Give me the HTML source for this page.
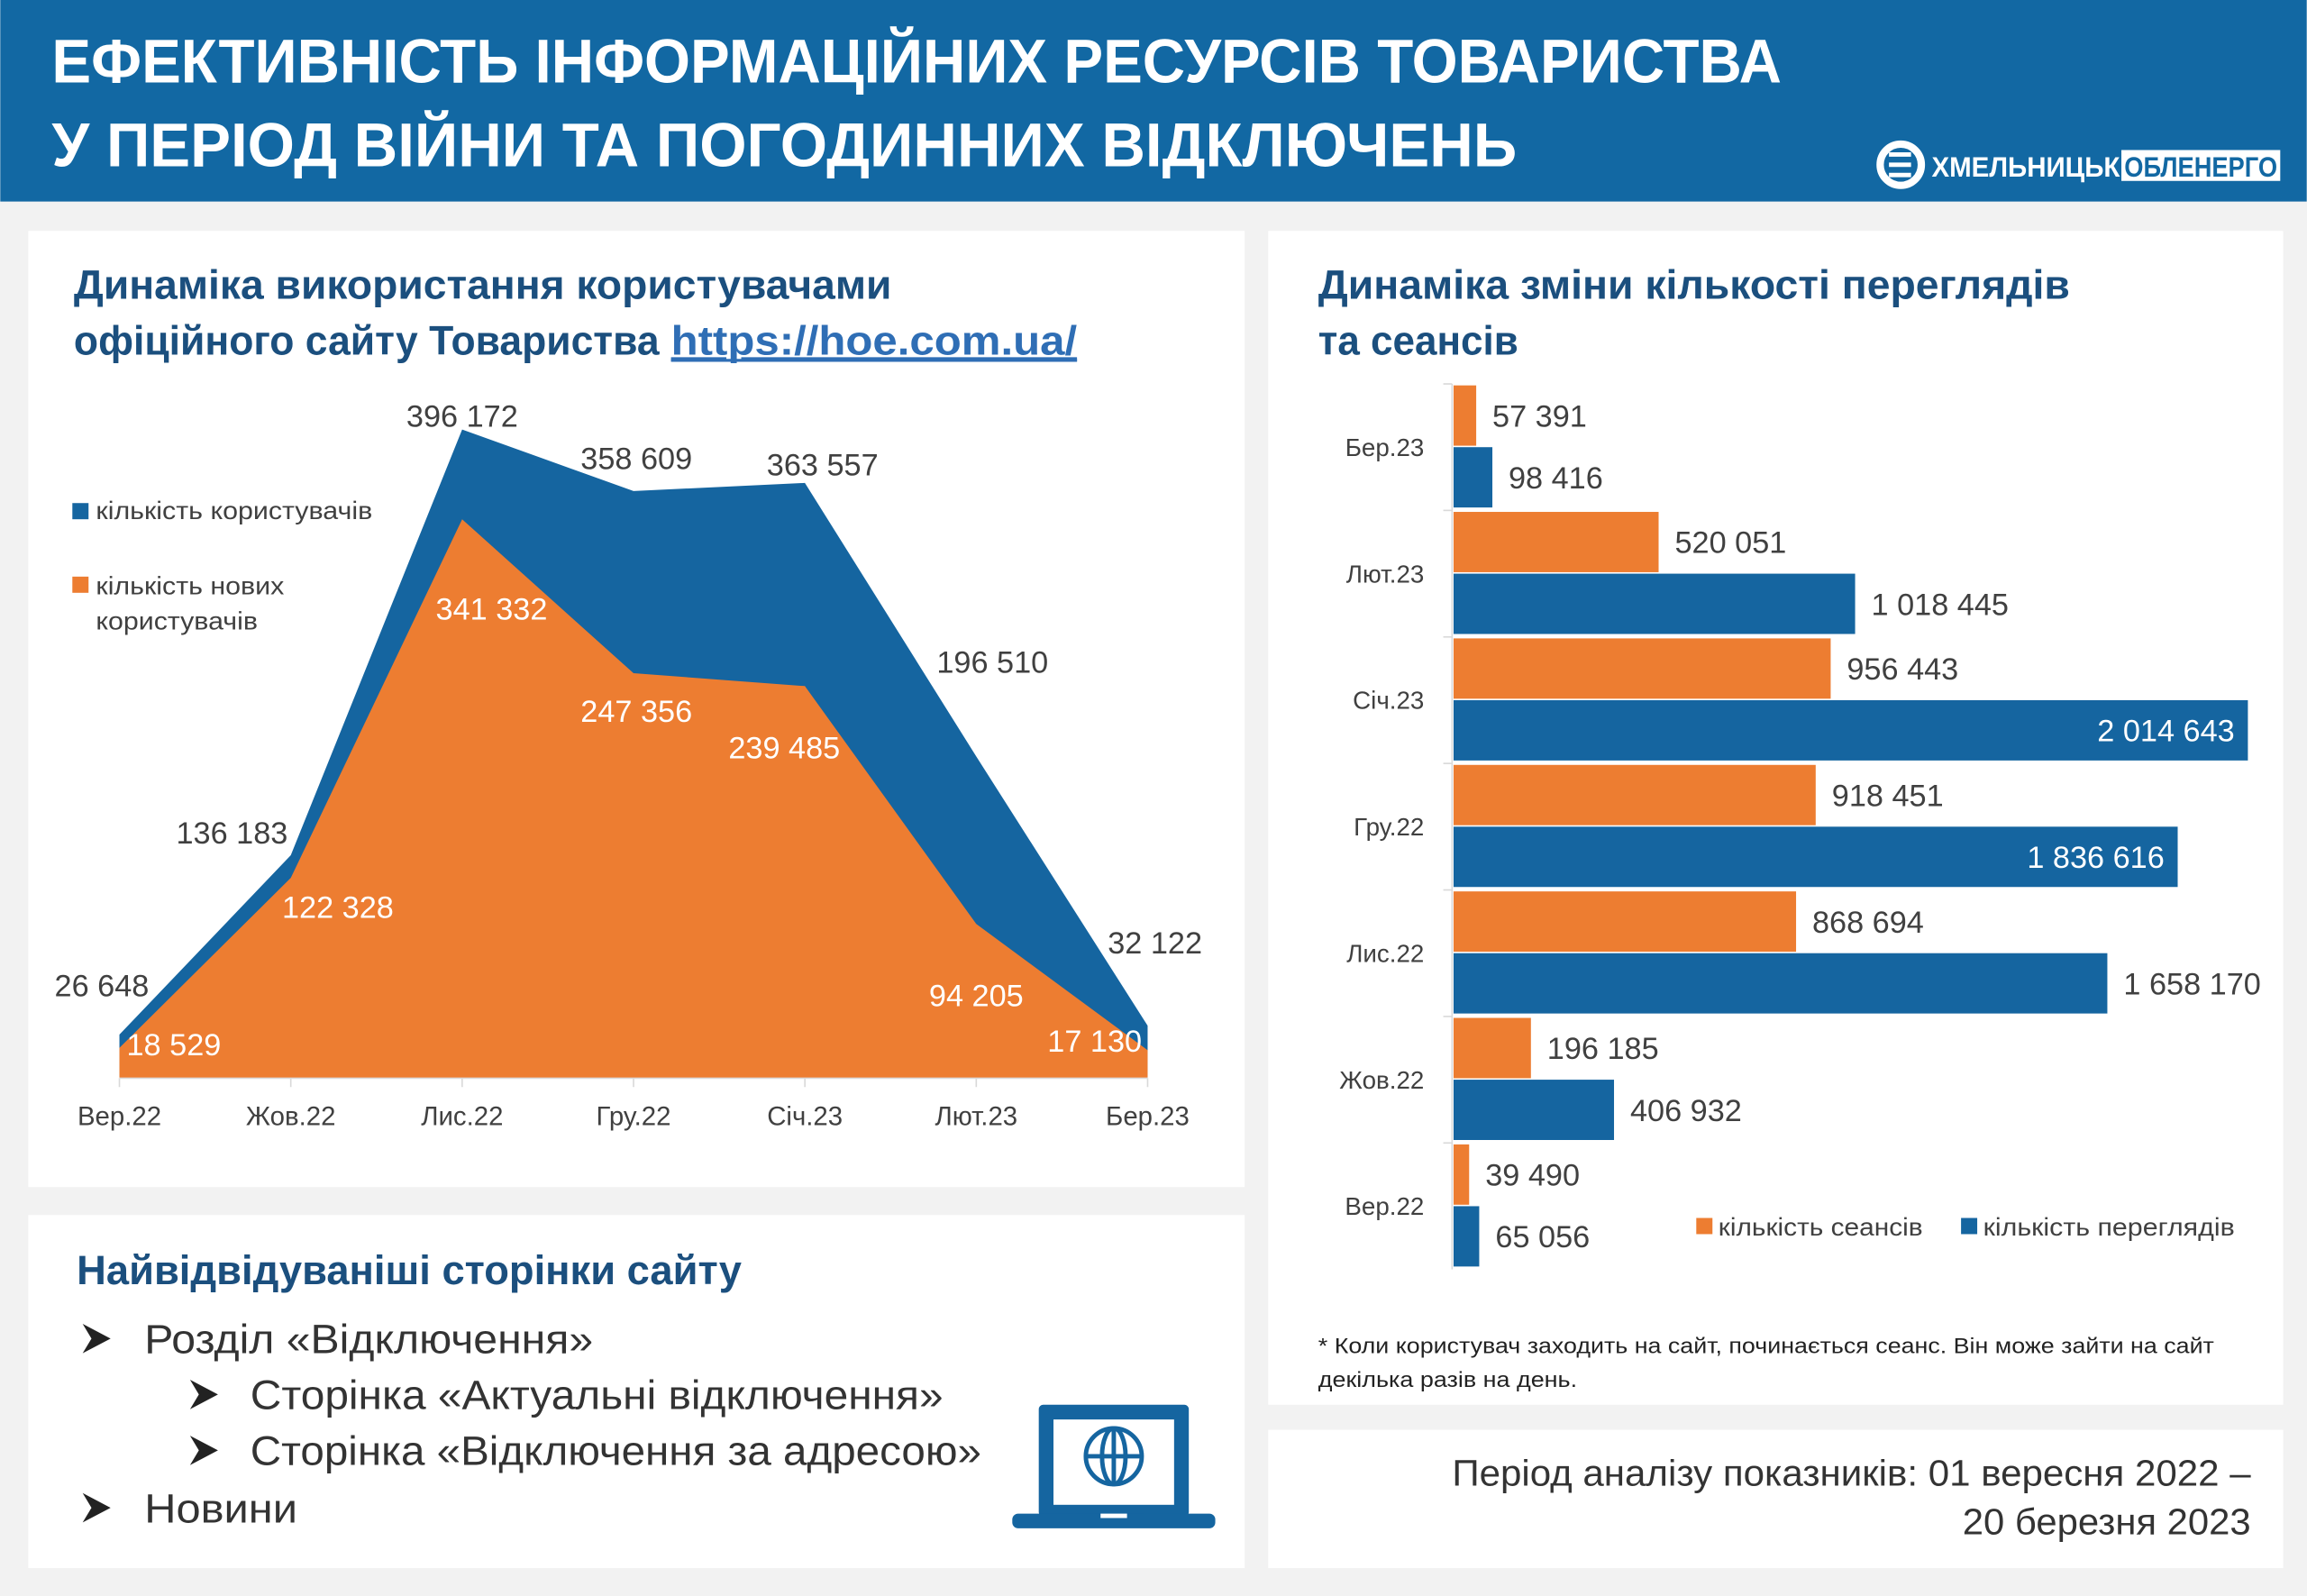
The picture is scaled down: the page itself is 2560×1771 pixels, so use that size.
<!DOCTYPE html>
<html><head><meta charset="utf-8">
<style>
html,body{margin:0;padding:0;width:2560px;height:1771px;overflow:hidden;background:#f2f2f2}
svg{display:block}
text{font-family:"Liberation Sans Narrow","Liberation Sans",sans-serif}
</style></head><body>
<svg id="page" width="2560" height="1771" viewBox="0 0 1568 1085" xmlns="http://www.w3.org/2000/svg">
<rect x="0" y="0" width="1568" height="1085" fill="#f2f2f2"/>
<g>
<rect x="0" y="0" width="1568" height="137" fill="#1268a3"/>
<text x="35" y="56" fill="#fff" font-size="42" font-weight="bold" textLength="1176" lengthAdjust="spacingAndGlyphs">ЕФЕКТИВНІСТЬ ІНФОРМАЦІЙНИХ РЕСУРСІВ ТОВАРИСТВА</text>
<text x="35" y="113" fill="#fff" font-size="42" font-weight="bold" textLength="996" lengthAdjust="spacingAndGlyphs">У ПЕРІОД ВІЙНИ ТА ПОГОДИННИХ ВІДКЛЮЧЕНЬ</text>
<g>
<circle cx="1292" cy="112" r="14" fill="none" stroke="#fff" stroke-width="5"/>
<path d="M1284 105h15M1284 112h15M1284 119h15" stroke="#fff" stroke-width="3"/>
<text x="1313" y="120" fill="#fff" font-size="19" font-weight="bold" textLength="128" lengthAdjust="spacingAndGlyphs">ХМЕЛЬНИЦЬК</text>
<rect x="1442" y="102" width="108" height="21" fill="#fff"/>
<text x="1444" y="120" fill="#1268a3" font-size="19" font-weight="bold" textLength="104" lengthAdjust="spacingAndGlyphs">ОБЛЕНЕРГО</text>
</g>
</g>
<rect x="19" y="157" width="827" height="650" fill="#fff"/>
<rect x="862" y="157" width="690" height="798" fill="#fff"/>
<rect x="19" y="826" width="827" height="240" fill="#fff"/>
<rect x="862" y="972" width="690" height="94" fill="#fff"/>

<text x="50" y="203" fill="#1b4f7e" font-size="28" font-weight="bold" textLength="556" lengthAdjust="spacingAndGlyphs">Динаміка використання користувачами</text>
<text x="50" y="241" fill="#1b4f7e" font-size="28" font-weight="bold" textLength="398" lengthAdjust="spacingAndGlyphs">офіційного сайту Товариства</text>
<text x="456" y="241" fill="#2f6eb5" font-size="28" font-weight="bold" text-decoration="underline" textLength="276" lengthAdjust="spacingAndGlyphs">https://hoe.com.ua/</text>
<line x1="456" y1="245" x2="732" y2="245" stroke="#2f6eb5" stroke-width="2"/>

<g id="areaChart"></g>

<g>
<rect x="49" y="342" width="11" height="11" fill="#1565a0"/>
<text x="65" y="353" fill="#404040" font-size="17" textLength="188" lengthAdjust="spacingAndGlyphs">кількість користувачів</text>
<rect x="49" y="392" width="11" height="11" fill="#ed7d31"/>
<text x="65" y="404" fill="#404040" font-size="17" textLength="128" lengthAdjust="spacingAndGlyphs">кількість нових</text>
<text x="65" y="428" fill="#404040" font-size="17" textLength="110" lengthAdjust="spacingAndGlyphs">користувачів</text>
</g>

<text x="896" y="203" fill="#1b4f7e" font-size="28" font-weight="bold" textLength="511" lengthAdjust="spacingAndGlyphs">Динаміка зміни кількості переглядів</text>
<text x="896" y="241" fill="#1b4f7e" font-size="28" font-weight="bold" textLength="136" lengthAdjust="spacingAndGlyphs">та сеансів</text>

<g id="barChart"></g>

<g>
<rect x="1153" y="828" width="11" height="11" fill="#ed7d31"/>
<text x="1168" y="840" fill="#404040" font-size="17" textLength="139" lengthAdjust="spacingAndGlyphs">кількість сеансів</text>
<rect x="1333" y="828" width="11" height="11" fill="#1565a0"/>
<text x="1348" y="840" fill="#404040" font-size="17" textLength="171" lengthAdjust="spacingAndGlyphs">кількість переглядів</text>
</g>

<text x="896" y="920" fill="#222" font-size="15" textLength="609" lengthAdjust="spacingAndGlyphs">* Коли користувач заходить на сайт, починається сеанс. Він може зайти на сайт</text>
<text x="896" y="943" fill="#222" font-size="15" textLength="176" lengthAdjust="spacingAndGlyphs">декілька разів на день.</text>

<text x="1530" y="1010" text-anchor="end" fill="#333" font-size="25" textLength="543" lengthAdjust="spacingAndGlyphs">Період аналізу показників: 01 вересня 2022 –</text>
<text x="1530" y="1043" text-anchor="end" fill="#333" font-size="25" textLength="196" lengthAdjust="spacingAndGlyphs">20 березня 2023</text>

<g>
<text x="52" y="873" fill="#1b4f7e" font-size="28" font-weight="bold" textLength="452" lengthAdjust="spacingAndGlyphs">Найвідвідуваніші сторінки сайту</text>
<path d="M56 900l19 10l-19 10l6-10z" fill="#222"/>
<text x="98" y="920" fill="#333" font-size="28" textLength="305" lengthAdjust="spacingAndGlyphs">Розділ «Відключення»</text>
<path d="M129 938l19 10l-19 10l6-10z" fill="#222"/>
<text x="170" y="958" fill="#333" font-size="28" textLength="471" lengthAdjust="spacingAndGlyphs">Сторінка «Актуальні відключення»</text>
<path d="M129 976l19 10l-19 10l6-10z" fill="#222"/>
<text x="170" y="996" fill="#333" font-size="28" textLength="497" lengthAdjust="spacingAndGlyphs">Сторінка «Відключення за адресою»</text>
<path d="M56 1015l19 10l-19 10l6-10z" fill="#222"/>
<text x="98" y="1035" fill="#333" font-size="28" textLength="104" lengthAdjust="spacingAndGlyphs">Новини</text>
</g>
<g>
<rect x="706" y="955" width="102" height="76" rx="3" fill="#1565a0"/>
<rect x="716" y="965" width="82" height="58" fill="#fff"/>
<circle cx="757" cy="990" r="19" fill="none" stroke="#1565a0" stroke-width="3"/>
<ellipse cx="757" cy="990" rx="8" ry="19" fill="none" stroke="#1565a0" stroke-width="3"/>
<line x1="738" y1="990" x2="776" y2="990" stroke="#1565a0" stroke-width="3"/>
<line x1="757" y1="971" x2="757" y2="1009" stroke="#1565a0" stroke-width="3"/>
<rect x="688" y="1029" width="138" height="10" rx="4" fill="#1565a0"/>
<rect x="748" y="1029" width="18" height="3" fill="#fff"/>
</g>
</svg>
<script>
// ---- area chart data ----
const areaCategories = ["Вер.22","Жов.22","Лис.22","Гру.22","Січ.23","Лют.23","Бер.23"];
const usersValues = [26648,136183,396172,358609,363557,196510,32122];
const newUsersValues = [18529,122328,341332,247356,239485,94205,17130];
const usersLabels = ["26 648","136 183","396 172","358 609","363 557","196 510","32 122"];
const newUsersLabels = ["18 529","122 328","341 332","247 356","239 485","94 205","17 130"];
// ---- bar chart data (top to bottom) ----
const barCategories = ["Бер.23","Лют.23","Січ.23","Гру.22","Лис.22","Жов.22","Вер.22"];
const sessionsValues = [57391,520051,956443,918451,868694,196185,39490];
const viewsValues = [98416,1018445,2014643,1836616,1658170,406932,65056];
const sessionsLabels = ["57 391","520 051","956 443","918 451","868 694","196 185","39 490"];
const viewsLabels = ["98 416","1 018 445","2 014 643","1 836 616","1 658 170","406 932","65 056"];

const NS="http://www.w3.org/2000/svg";
function mk(tag,attrs,parent){const e=document.createElementNS(NS,tag);for(const k in attrs)e.setAttribute(k,attrs[k]);parent.appendChild(e);return e;}

// area chart
const ag=document.getElementById('areaChart');
const x0=81,x1=780,yBase=733,yScale=441/396172;
const ax=i=>x0+i*(x1-x0)/(areaCategories.length-1);
const ay=v=>yBase-v*yScale;
function areaPath(vals){let d='M'+ax(0)+' '+yBase;vals.forEach((v,i)=>{d+=' L'+ax(i)+' '+ay(v);});d+=' L'+ax(vals.length-1)+' '+yBase+' Z';return d;}
const pu=mk('path',{d:areaPath(usersValues),fill:'#1565a0'},ag);


const pn=mk('path',{d:areaPath(newUsersValues),fill:'#ed7d31'},ag);


mk('line',{x1:x0,y1:yBase,x2:x1,y2:yBase,stroke:'#d9d9d9','stroke-width':1},ag);
const uOff=[[-12,-33],[-40,-15],[0,-9],[2,-22],[12,-12],[11,-64],[5,-56]];
const nOff=[[37,-2],[32,20],[20,61],[2,26],[-14,42],[0,49],[-36,-6]];
areaCategories.forEach((c,i)=>{
  mk('line',{x1:ax(i),y1:yBase,x2:ax(i),y2:yBase+6,stroke:'#d9d9d9'},ag);
  const t=mk('text',{x:ax(i),y:yBase+32,'text-anchor':'middle','font-size':18,fill:'#404040'},ag);
  t.textContent=c;
  
  
  const ul=mk('text',{x:ax(i)+uOff[i][0],y:ay(usersValues[i])+uOff[i][1]+7,'text-anchor':'middle','font-size':21,fill:'#404040'},ag);
  ul.textContent=usersLabels[i];
  
  
  const nl=mk('text',{x:ax(i)+nOff[i][0],y:ay(newUsersValues[i])+nOff[i][1]+7,'text-anchor':'middle','font-size':21,fill:'#fff'},ag);
  nl.textContent=newUsersLabels[i];
  
  
});

// bar chart
const bg=document.getElementById('barChart');
const bx0=987,bScale=540/2014643,bandTop=261,band=86;
const bw=v=>v*bScale;
mk('line',{x1:bx0,y1:bandTop,x2:bx0,y2:bandTop+band*barCategories.length,stroke:'#d9d9d9'},bg);
barCategories.forEach((c,i)=>{
  const top=bandTop+i*band;
  mk('line',{x1:bx0-6,y1:top,x2:bx0,y2:top,stroke:'#d9d9d9'},bg);
  const cl=mk('text',{x:968,y:top+band/2+6,'text-anchor':'end','font-size':17,fill:'#404040'},bg);
  cl.textContent=c;
  
  
  const r1=mk('rect',{x:bx0+1,y:top+1,width:bw(sessionsValues[i]),height:41,fill:'#ed7d31'},bg);
  
  
  const r2=mk('rect',{x:bx0+1,y:top+43,width:bw(viewsValues[i]),height:41,fill:'#1565a0'},bg);
  
  
  const l1=mk('text',{x:bx0+bw(sessionsValues[i])+12,y:top+29,'font-size':21,fill:'#404040'},bg);
  l1.textContent=sessionsLabels[i];
  
  
  const inside=bx0+bw(viewsValues[i])+110>1552;
  const l2=mk('text',{x:inside?bx0+bw(viewsValues[i])-8:bx0+bw(viewsValues[i])+12,y:top+71,'text-anchor':inside?'end':'start','font-size':21,fill:inside?'#fff':'#404040'},bg);
  l2.textContent=viewsLabels[i];
  
  
});
</script>
</body></html>
